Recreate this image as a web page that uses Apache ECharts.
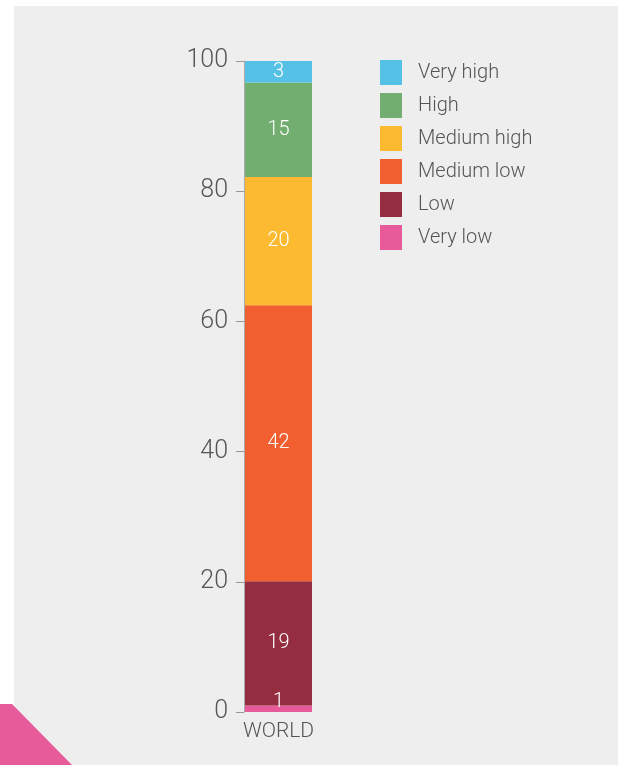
<!DOCTYPE html>
<html>
<head>
<meta charset="utf-8">
<script src="https://cdn.jsdelivr.net/npm/echarts@6/dist/echarts.min.js"></script>
<style>
html,body{margin:0;padding:0;background:#ffffff;}
#chart{width:625px;height:765px;}
</style>
</head>
<body>
<div id="chart"></div>
<script>
const categories = ['WORLD'];
const seriesNames = ['Very low', 'Low', 'Medium low', 'Medium high', 'High', 'Very high'];
const seriesValues = [1.0, 19.1, 42.4, 19.7, 14.5, 3.3];
const seriesColors = ['#E85B9B', '#952D41', '#F15E30', '#FBBA2F', '#72AE6F', '#56C1E6'];
const yTicks = [0, 20, 40, 60, 80, 100];

const chart = echarts.init(document.getElementById('chart'));
const font = 'Roboto, "Noto Sans", sans-serif';

const series = seriesNames.map((name, i) => ({
  name: name,
  type: 'bar',
  stack: 'total',
  barWidth: 67,
  data: [seriesValues[i]],
  itemStyle: { color: seriesColors[i] },
  label: {
    show: true,
    position: i === 0 ? 'insideBottom' : 'inside',
    distance: i === 0 ? 0 : 5,
    color: '#ffffff',
    fontFamily: font,
    fontSize: 20,
    fontWeight: 300,
    formatter: p => String(Math.round(p.value))
  }
}));

chart.setOption({
  animation: false,
  backgroundColor: 'transparent',
  graphic: [
    { type: 'rect', z: -10, shape: { x: 14, y: 6, width: 604, height: 760 }, style: { fill: '#EEEEEE' } },
    { type: 'polygon', z: -9, shape: { points: [[0, 704], [12, 704], [72, 765], [0, 765]] }, style: { fill: '#E85B9B' } }
  ],
  grid: { left: 244, top: 61, width: 69, height: 651 },
  legend: {
    data: seriesNames.slice().reverse(),
    orient: 'vertical',
    left: 380,
    top: 60,
    padding: 0,
    itemWidth: 22,
    itemHeight: 25,
    itemGap: 8,
    icon: 'rect',
    selectedMode: false,
    textStyle: { color: '#555555', fontFamily: font, fontSize: 20, fontWeight: 300, padding: [0, 0, 0, 11] }
  },
  xAxis: {
    type: 'category',
    data: categories,
    axisLine: { show: false },
    axisTick: { show: false },
    axisLabel: { color: '#555555', fontFamily: font, fontSize: 21, fontWeight: 300, margin: 9 }
  },
  yAxis: {
    type: 'value',
    min: 0,
    max: 100,
    interval: 20,
    axisLine: { show: true, lineStyle: { color: '#aaaaaa', width: 1 } },
    axisTick: { show: true, length: 8, lineStyle: { color: '#999999' } },
    splitLine: { show: false },
    axisLabel: {
      color: '#555555', fontFamily: font, fontSize: 25, fontWeight: 300, margin: 16,
      formatter: v => yTicks.includes(v) ? String(v) : ''
    }
  },
  series: series
});
</script>
</body>
</html>
